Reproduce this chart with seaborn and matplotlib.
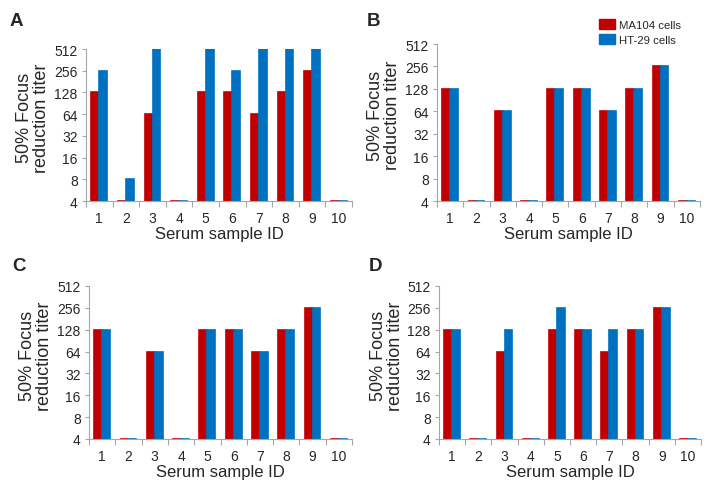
import matplotlib
matplotlib.use("Agg")
import matplotlib.pyplot as plt
from matplotlib.patches import Patch
from matplotlib.ticker import FixedLocator, NullFormatter
import pandas as pd
import seaborn as sns

sns.set_theme(style="white")
plt.rcParams["font.family"] = ["Liberation Sans", "DejaVu Sans"]

# Dados (titulo 50% por redução de focos)
amostras = ["1", "2", "3", "4", "5", "6", "7", "8", "9", "10"]
ma104_a = [128, 4, 64, 4, 128, 128, 64, 128, 256, 4]
ht29_a = [256, 8, 512, 4, 512, 256, 512, 512, 512, 4]
ma104_b = [128, 4, 64, 4, 128, 128, 64, 128, 256, 4]
ht29_b = [128, 4, 64, 4, 128, 128, 64, 128, 256, 4]
ma104_c = [128, 4, 64, 4, 128, 128, 64, 128, 256, 4]
ht29_c = [128, 4, 64, 4, 128, 128, 64, 128, 256, 4]
ma104_d = [128, 4, 64, 4, 128, 128, 64, 128, 256, 4]
ht29_d = [128, 4, 128, 4, 256, 128, 128, 128, 256, 4]
yticks = [4, 8, 16, 32, 64, 128, 256, 512]

PALETA = {"MA104 cells": "#C00000", "HT-29 cells": "#0070C0"}
CINZA = "#A6A6A6"

# letra, dados, [esquerda, direita, topo, base] em pixels, posição da letra
paineis = [
    ("A", ma104_a, ht29_a, [86, 352, 50, 202], (10, 21)),
    ("B", ma104_b, ht29_b, [437, 700, 45, 202], (367, 21)),
    ("C", ma104_c, ht29_c, [89, 352, 287, 440], (12, 267)),
    ("D", ma104_d, ht29_d, [439, 701, 287, 440], (369, 267)),
]

W, H = 708, 489
fig = plt.figure(figsize=(W / 100, H / 100), dpi=100)

for letra, ma, ht, (l, r, t, b), (lx, ly) in paineis:
    ax = fig.add_axes([l / W, 1 - b / H, (r - l) / W, (b - t) / H])
    df = pd.DataFrame({
        "amostra": amostras * 2,
        "titulo": ma + ht,
        "celula": ["MA104 cells"] * 10 + ["HT-29 cells"] * 10,
    })
    sns.barplot(data=df, x="amostra", y="titulo", hue="celula",
                palette=PALETA, width=0.6, gap=0, legend=False, ax=ax,
                errorbar=None, saturation=1, linewidth=1.2)
    for p, cor in zip(ax.patches, ["#C00000"] * 10 + ["#0070C0"] * 10):
        p.set_edgecolor(cor)
    ax.set_yscale("log", base=2)
    ax.set_ylim(4, 512)
    ax.set_xlim(-0.5, 9.5)
    ax.set_yticks(yticks)
    ax.set_yticklabels([str(v) for v in yticks])
    ax.yaxis.set_minor_locator(FixedLocator([]))
    ax.xaxis.set_minor_locator(FixedLocator([i + 0.5 for i in range(-1, 10)]))
    ax.xaxis.set_minor_formatter(NullFormatter())
    ax.tick_params(axis="x", which="major", length=0, labelsize=10, pad=7)
    ax.tick_params(axis="x", which="minor", length=4, color=CINZA, width=0.8,
                   direction="out", bottom=True)
    ax.tick_params(axis="y", which="major", length=3, color=CINZA, width=0.8,
                   direction="out", left=True, labelsize=10, pad=3)
    for lado in ["top", "right"]:
        ax.spines[lado].set_visible(False)
    for lado in ["left", "bottom"]:
        ax.spines[lado].set_color(CINZA)
        ax.spines[lado].set_linewidth(0.8)
    ax.set_xlabel("Serum sample ID", fontsize=12, labelpad=1)
    ax.set_ylabel("50% Focus\nreduction titer", fontsize=13, linespacing=1.0)
    ax.yaxis.set_label_coords(-0.135, 0.55)
    fig.text(lx / W, 1 - ly / H, letra, fontsize=13.5, fontweight="bold",
             va="center", ha="left")

handles = [Patch(facecolor=c, edgecolor=c, label=k) for k, c in PALETA.items()]
fig.legend(handles=handles, loc="upper left", bbox_to_anchor=(594 / W, 1 - 15 / H),
           frameon=False, fontsize=8.2, handlelength=1.4, handleheight=1.0,
           handletextpad=0.4, labelspacing=0.35, borderaxespad=0)

fig.savefig("out.png", dpi=100)
